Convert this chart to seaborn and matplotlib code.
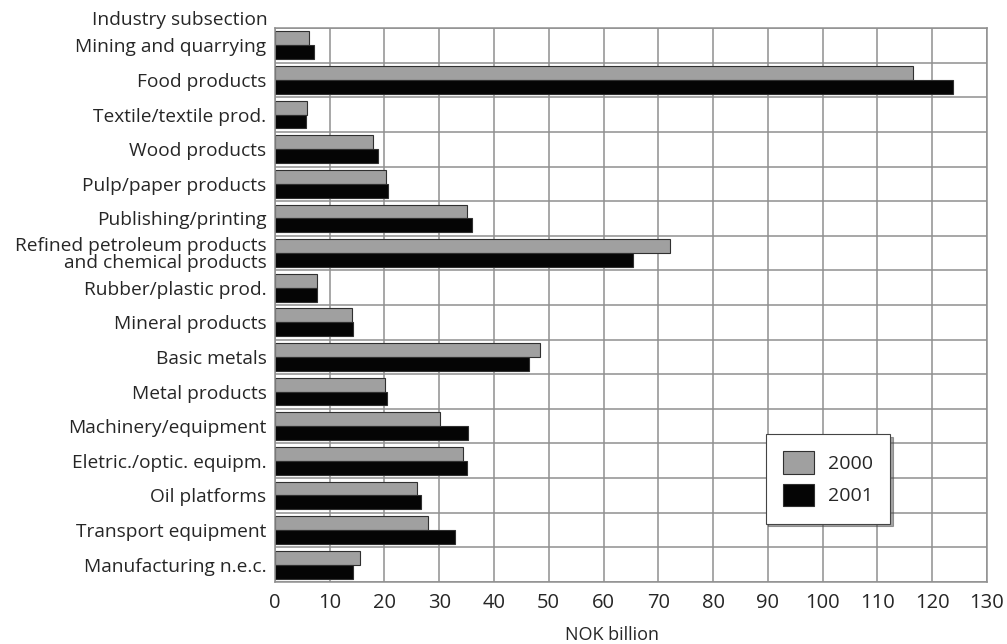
import matplotlib
matplotlib.use("Agg")
import matplotlib.pyplot as plt
import seaborn as sns
import pandas as pd
import numpy as np

# Industry subsections and production value (NOK billion)
categories = [
    "Mining and quarrying",
    "Food products",
    "Textile/textile prod.",
    "Wood products",
    "Pulp/paper products",
    "Publishing/printing",
    "Refined petroleum products\nand chemical products",
    "Rubber/plastic prod.",
    "Mineral products",
    "Basic metals",
    "Metal products",
    "Machinery/equipment",
    "Eletric./optic. equipm.",
    "Oil platforms",
    "Transport equipment",
    "Manufacturing n.e.c.",
]
values_2000 = [6.2, 116.5, 5.8, 17.9, 20.3, 35.0, 72.1, 7.7, 14.0, 48.4, 20.1, 30.1, 34.3, 25.9, 27.9, 15.6]
values_2001 = [7.1, 123.8, 5.7, 18.8, 20.7, 35.9, 65.4, 7.6, 14.3, 46.4, 20.5, 35.2, 35.1, 26.6, 32.9, 14.2]
years = ["2000", "2001"]
xticks = list(range(0, 131, 10))

df = pd.DataFrame({
    "industry": categories * 2,
    "value": values_2000 + values_2001,
    "year": [years[0]] * len(categories) + [years[1]] * len(categories),
})

sns.set_style("white")
plt.rcParams["font.family"] = ["Open Sans", "DejaVu Sans"]

fig = plt.figure(figsize=(10.07, 6.44), dpi=100)
ax = fig.add_axes([0.273, 0.0963, 0.707, 0.8602])

sns.barplot(data=df, y="industry", x="value", hue="year", orient="h",
            palette={"2000": "#a0a0a0", "2001": "#050505"},
            width=0.8, edgecolor="#303030", linewidth=0.8,
            dodge=True, ax=ax, legend=True)

ax.set_xlim(0, 130)
ax.set_ylim(len(categories) - 0.5, -0.5)
ax.set_xticks(xticks)
ax.set_xticklabels([str(t) for t in xticks], fontsize=14.5)
ax.set_yticks(range(len(categories)))
ax.set_yticklabels(categories, fontsize=13.8, linespacing=0.9)
ax.set_yticks(np.arange(-0.5, len(categories), 1), minor=True)
ax.tick_params(axis="both", which="both", length=0)
ax.tick_params(axis="x", pad=8)
ax.tick_params(axis="y", pad=6)
ax.set_xlabel("")
ax.set_ylabel("")

ax.grid(True, axis="x", which="major", color="#8f8f8f", linewidth=1.1)
ax.grid(True, axis="y", which="minor", color="#8f8f8f", linewidth=1.1)
ax.set_axisbelow(True)
for s in ax.spines.values():
    s.set_color("#8f8f8f")
    s.set_linewidth(1.1)

leg = ax.legend(loc="lower right", bbox_to_anchor=(0.878, 0.088),
                frameon=True, fancybox=False, shadow=True,
                fontsize=14, handlelength=1.6, handleheight=1.4,
                borderpad=0.9, labelspacing=0.5, handletextpad=0.7)
leg.get_frame().set_edgecolor("#444444")
leg.get_frame().set_linewidth(0.8)

fig.text(0.266, 0.969, "Industry subsection", ha="right", va="center", fontsize=13.8)
fig.text(0.608, 0.014, "NOK billion", ha="center", va="center", fontsize=13)

fig.savefig("out.png", dpi=100)
